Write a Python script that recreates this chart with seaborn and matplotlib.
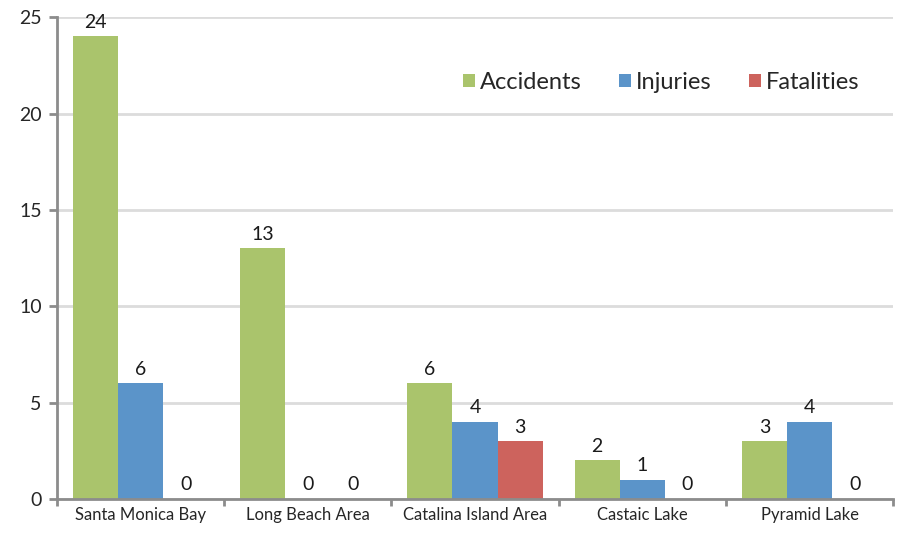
import matplotlib
matplotlib.use("Agg")
import matplotlib.pyplot as plt
import numpy as np
import pandas as pd
import seaborn as sns

# data
omraader = ["Santa Monica Bay", "Long Beach Area", "Catalina Island Area", "Castaic Lake", "Pyramid Lake"]
ulykker = [24, 13, 6, 2, 3]
skader = [6, 0, 4, 1, 4]
dodsfall = [0, 0, 3, 0, 0]
serier = ["Accidents", "Injuries", "Fatalities"]
farger = ["#AAC46C", "#5B94C9", "#CD635D"]

data = pd.DataFrame({
    "område": omraader * 3,
    "serie": [serier[0]] * 5 + [serier[1]] * 5 + [serier[2]] * 5,
    "antall": ulykker + skader + dodsfall,
})

sns.set_style("white")
plt.rcParams["font.family"] = ["Lato", "DejaVu Sans"]

fig = plt.figure(figsize=(9.04, 5.36), dpi=100)
ax = fig.add_axes([0.063, 0.069, 0.925, 0.899])

sns.barplot(data=data, x="område", y="antall", hue="serie", palette=farger,
            width=0.81, saturation=1, linewidth=0, edgecolor="none", ax=ax, zorder=3)

for c in ax.containers:
    ax.bar_label(c, padding=4, fontsize=14, color="#1a1a1a")

ax.set_ylim(0, 25)
ax.set_xlim(-0.5, 4.5)
ax.set_yticks([0, 5, 10, 15, 20, 25])
ax.yaxis.grid(True, color="#dcdcdc", linewidth=2, zorder=0)
ax.set_axisbelow(True)
ax.set_xlabel("")
ax.set_ylabel("")

for s in ["top", "right"]:
    ax.spines[s].set_visible(False)
for s in ["left", "bottom"]:
    ax.spines[s].set_color("#8c8c8c")
    ax.spines[s].set_linewidth(2)
    ax.spines[s].set_zorder(4)

ax.tick_params(axis="y", length=6, width=2, color="#8c8c8c", labelsize=14, pad=5, left=True)
ax.tick_params(axis="x", which="major", length=0, labelsize=12, pad=6)
ax.set_xticks(np.arange(-0.5, 5, 1), minor=True)
ax.tick_params(axis="x", which="minor", length=5, width=2, color="#8c8c8c", bottom=True)

ax.legend(ncol=3, frameon=False, loc="upper right", bbox_to_anchor=(0.985, 0.93),
          fontsize=17, handlelength=0.5, handleheight=0.5, handletextpad=0.2,
          columnspacing=1.6)

fig.savefig("out.png", dpi=100)
